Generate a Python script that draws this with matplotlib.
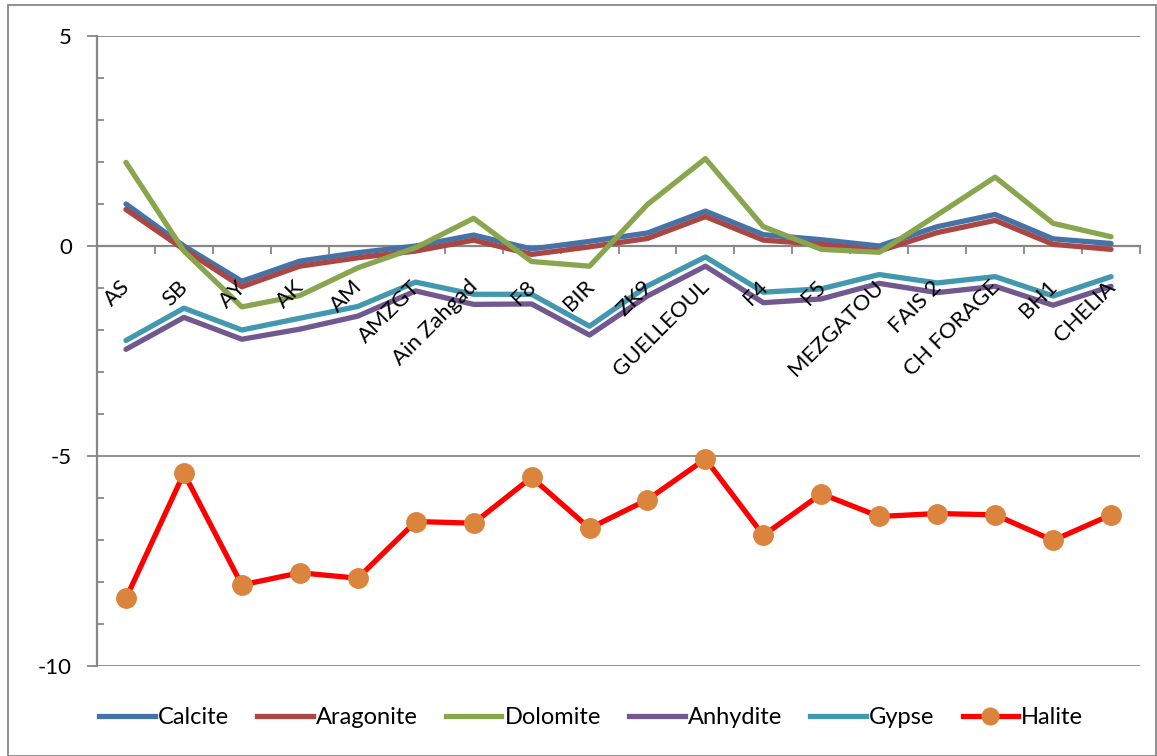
import matplotlib
matplotlib.use("Agg")
import matplotlib.pyplot as plt
from matplotlib.patches import Rectangle
from matplotlib.lines import Line2D
from matplotlib.ticker import MultipleLocator

plt.rcParams['font.family'] = ['Lato', 'DejaVu Sans']

sites = ["AS", "SB", "AY", "AK", "AM", "AMZGT", "Ain Zahgad", "F8", "BIR", "ZK9",
         "GUELLEOUL", "F4", "F5", "MEZGATOU", "FAIS 2", "CH FORAGE", "BH1", "CHELIA"]

calcite = [1.00, 0.00, -0.84, -0.36, -0.16, 0.00, 0.26, -0.07, 0.11, 0.31,
           0.83, 0.27, 0.15, 0.00, 0.46, 0.75, 0.17, 0.06]
aragonite = [0.87, -0.08, -0.97, -0.48, -0.28, -0.12, 0.14, -0.20, -0.02, 0.18,
             0.70, 0.14, 0.04, -0.12, 0.32, 0.61, 0.04, -0.08]
dolomite = [1.99, -0.12, -1.45, -1.18, -0.52, -0.04, 0.66, -0.37, -0.48, 0.99,
            2.08, 0.46, -0.08, -0.15, 0.74, 1.64, 0.54, 0.22]
anhydite = [-2.46, -1.70, -2.22, -1.98, -1.67, -1.07, -1.39, -1.38, -2.12, -1.19,
            -0.48, -1.35, -1.26, -0.89, -1.11, -0.96, -1.41, -0.96]
gypse = [-2.25, -1.48, -2.00, -1.72, -1.44, -0.86, -1.15, -1.15, -1.91, -0.95,
         -0.26, -1.10, -1.02, -0.68, -0.88, -0.73, -1.19, -0.73]
halite = [-8.39, -5.41, -8.07, -7.78, -7.91, -6.56, -6.60, -5.51, -6.72, -6.04,
          -5.07, -6.89, -5.90, -6.44, -6.37, -6.40, -7.01, -6.40]

series = [("Calcite", calcite, "#4572A7"),
          ("Aragonite", aragonite, "#AA4643"),
          ("Dolomite", dolomite, "#89A54E"),
          ("Anhydite", anhydite, "#71588F"),
          ("Gypse", gypse, "#4198AF")]

W, H = 1157, 756
fig = plt.figure(figsize=(W / 100, H / 100), dpi=100)
ax = fig.add_axes([97 / W, 1 - 666 / H, (1140 - 97) / W, (666 - 36) / H])

x = list(range(len(sites)))
lw = 3.8
for name, vals, col in series:
    ax.plot(x, vals, color=col, lw=lw, solid_capstyle='round',
            solid_joinstyle='round', label=name, zorder=3)
ax.plot(x, halite, color="#FF0000", lw=lw, marker='o', markersize=14,
        markerfacecolor="#DB843D", markeredgecolor="#DB843D",
        solid_joinstyle='round', label="Halite", zorder=3)

ax.set_xlim(-0.5, len(sites) - 0.5)
ax.set_ylim(-10, 5)

grid_col = "#878787"
for yv in (5, -5, -10):
    ax.axhline(yv, color=grid_col, lw=1.3, zorder=1)

# spines
for s in ("top", "right"):
    ax.spines[s].set_visible(False)
ax.spines['bottom'].set_position(('data', 0))
ax.spines['bottom'].set_color(grid_col)
ax.spines['bottom'].set_linewidth(1.6)
ax.spines['left'].set_color(grid_col)
ax.spines['left'].set_linewidth(1.6)

# y axis ticks
ax.yaxis.set_major_locator(MultipleLocator(5))
ax.yaxis.set_minor_locator(MultipleLocator(1))
ax.tick_params(axis='y', which='major', direction='out', length=7, width=1.3,
               color=grid_col, labelsize=16, pad=11)
ax.tick_params(axis='y', which='minor', direction='in', length=5, width=1.3,
               color=grid_col)
ax.set_yticklabels([f"{int(v)}" for v in ax.get_yticks()])

# x axis: ticks at category boundaries, labels drawn diagonally over the lines
ax.set_xticks([i - 0.5 for i in range(len(sites) + 1)])
ax.set_xticklabels([])
ax.tick_params(axis='x', which='major', direction='out', length=6, width=1.3,
               color=grid_col)
for i, lab in enumerate(sites):
    ax.text(i + 0.02, -0.9, lab, rotation=45, ha='right', va='center',
            rotation_mode='anchor', fontsize=16, color='black', zorder=5)

# legend
handles = [Line2D([], [], color=c, lw=lw) for _, _, c in series]
handles.append(Line2D([], [], color="#FF0000", lw=lw, marker='o', markersize=12,
                      markerfacecolor="#DB843D", markeredgecolor="#DB843D"))
labels = [n for n, _, _ in series] + ["Halite"]
fig.legend(handles, labels, loc='center', bbox_to_anchor=(0.511, 1 - 718 / H),
           ncol=6, frameon=False, fontsize=17, handlelength=2.35,
           handletextpad=0.13, columnspacing=1.2)

# chart border
fig.patches.append(Rectangle((8 / W, 0.0), (W - 9) / W, 1 - 5 / H,
                             transform=fig.transFigure, fill=False,
                             edgecolor="#878787", lw=1.3))

fig.savefig("out.png", dpi=100)
